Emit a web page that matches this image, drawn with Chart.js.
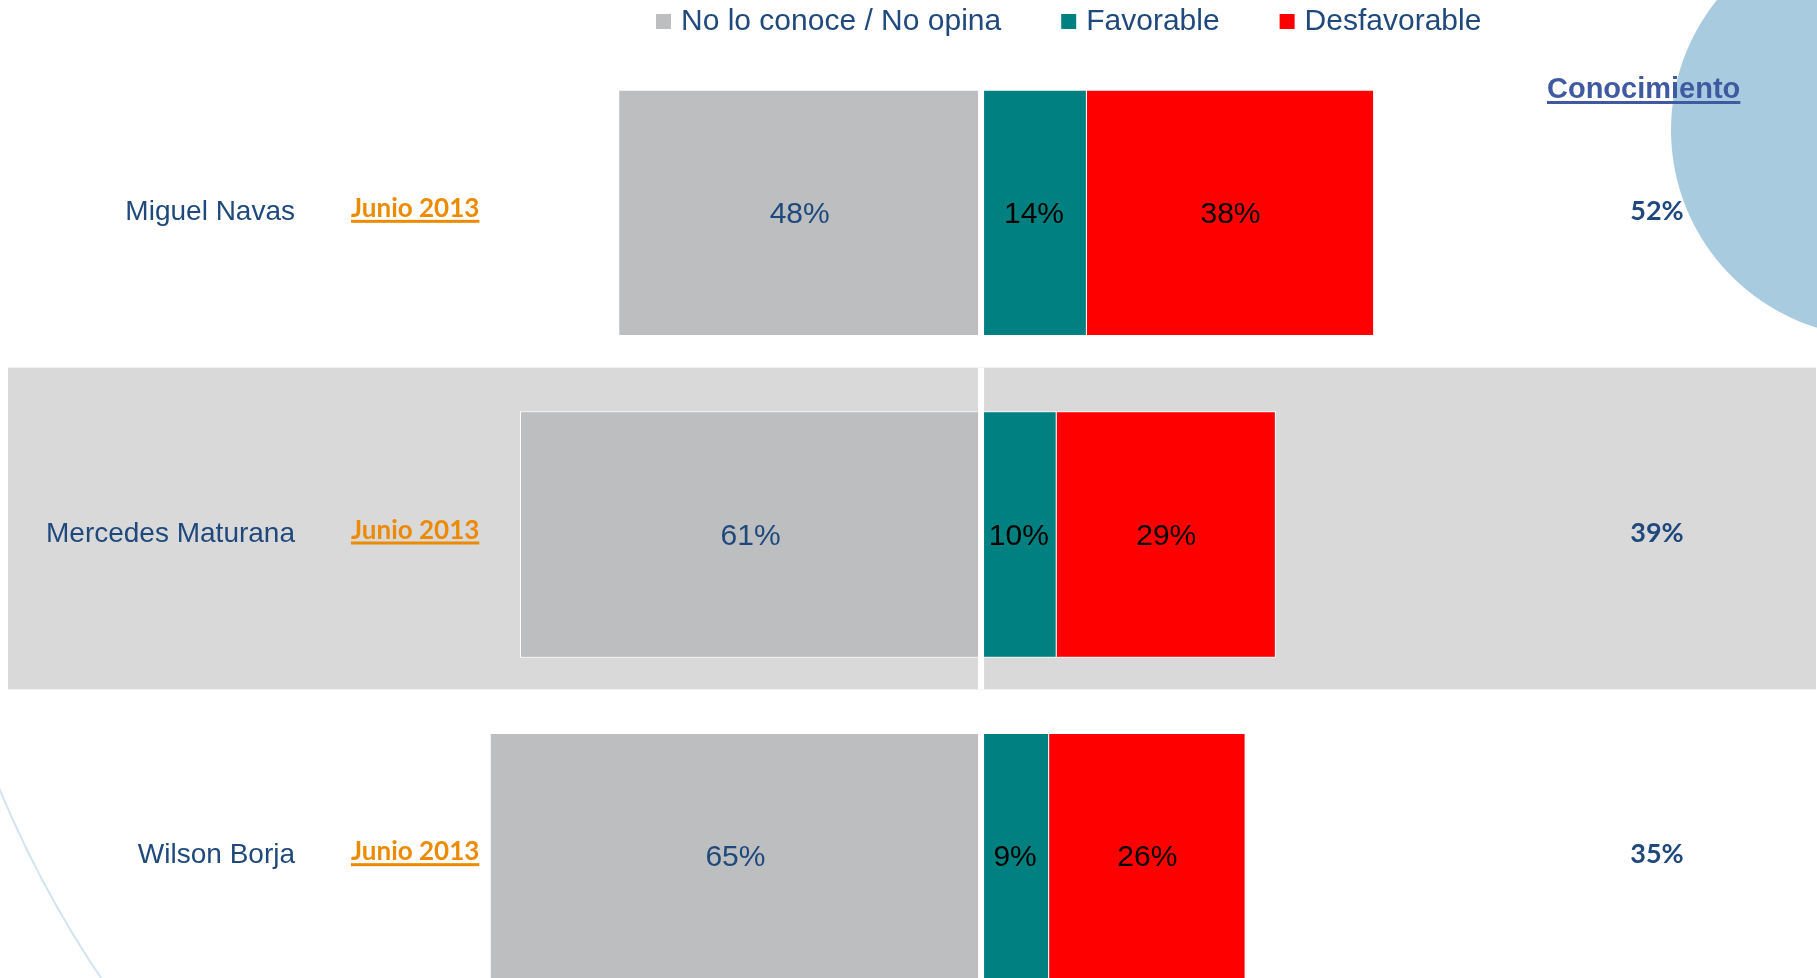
<!DOCTYPE html>
<html>
<head>
<meta charset="utf-8">
<script src="https://cdn.jsdelivr.net/npm/chart.js@4.4.1/dist/chart.umd.min.js"></script>
<style>
  html, body { margin: 0; padding: 0; background: #fff; overflow: hidden; }
  #wrap { position: relative; width: 1817px; height: 1017px; }
</style>
</head>
<body>
<div id="wrap"><canvas id="chart"></canvas></div>
<script>
// Data
const candidates = ['Miguel Navas', 'Mercedes Maturana', 'Wilson Borja'];
const periods = ['Junio 2013', 'Junio 2013', 'Junio 2013'];
const noOpina = [48, 61, 65];
const favorable = [14, 10, 9];
const desfavorable = [38, 29, 26];
const conocimiento = [52, 39, 35];
const seriesNames = ['No lo conoce / No opina', 'Favorable', 'Desfavorable'];
const seriesColors = ['#bdbec0', '#008080', '#ff0000'];

const BLUE = '#1f497d';
const SANS = '"Liberation Sans", Arial, sans-serif';

// Background: decorative circles + shaded middle row
const bgPlugin = {
  id: 'background',
  beforeDraw(chart) {
    const { ctx } = chart;
    const xs = chart.scales.x, ys = chart.scales.y;
    const zero = xs.getPixelForValue(0);
    const row = ys.getPixelForValue(1) - ys.getPixelForValue(0);
    ctx.save();
    ctx.fillStyle = '#a9cbdf';
    ctx.beginPath(); ctx.arc(1878, 130, 207, 0, Math.PI * 2); ctx.fill();
    ctx.strokeStyle = '#d2e5ef'; ctx.lineWidth = 2;
    ctx.beginPath(); ctx.arc(1000, 372, 1084, 0, Math.PI * 2); ctx.stroke();
    const cy = ys.getPixelForValue(1);
    ctx.fillStyle = '#d9d9d9';
    ctx.fillRect(8, cy - row / 2 - 6, 1808, row);
    ctx.fillStyle = '#fff';
    ctx.fillRect(zero - 3, cy - row / 2 - 6, 6, row);
    ctx.restore();
  }
};

// Text: bar values, row labels, conocimiento column, legend
const textPlugin = {
  id: 'texts',
  afterDatasetsDraw(chart) {
    const { ctx } = chart;
    const ys = chart.scales.y;
    ctx.save();

    ctx.font = '30px ' + SANS;
    ctx.textAlign = 'center';
    ctx.textBaseline = 'middle';
    chart.data.datasets.forEach((ds, di) => {
      chart.getDatasetMeta(di).data.forEach((bar, i) => {
        ctx.fillStyle = di === 0 ? BLUE : '#000';
        ctx.fillText(Math.abs(ds.data[i]) + '%', (bar.x + bar.base) / 2, bar.y + 2);
      });
    });

    ctx.textBaseline = 'alphabetic';
    candidates.forEach((name, i) => {
      const y = ys.getPixelForValue(i);
      ctx.font = '28px ' + SANS;
      ctx.fillStyle = BLUE;
      ctx.textAlign = 'right';
      ctx.fillText(name, 295, y + 7);

      ctx.font = 'bold 26px Lato, ' + SANS;
      ctx.fillStyle = '#ed8b00';
      ctx.textAlign = 'left';
      ctx.fillText(periods[i], 351, y + 4);
      const w = ctx.measureText(periods[i]).width;
      ctx.fillRect(351, y + 7, w, 3);

      ctx.font = 'bold 27px Lato, ' + SANS;
      ctx.fillStyle = BLUE;
      ctx.textAlign = 'center';
      ctx.fillText(conocimiento[i] + '%', 1657, y + 7);
    });

    ctx.font = 'bold 29px ' + SANS;
    ctx.fillStyle = '#3f5aa0';
    ctx.textAlign = 'left';
    ctx.fillText('Conocimiento', 1547, 98);
    const cw = ctx.measureText('Conocimiento').width;
    ctx.fillRect(1547, 101, cw, 3);

    // legend
    ctx.font = '30px ' + SANS;
    let lx = 656;
    chart.data.datasets.forEach((ds) => {
      ctx.fillStyle = ds.backgroundColor;
      ctx.fillRect(lx, 14, 15, 15);
      ctx.fillStyle = BLUE;
      ctx.fillText(ds.label, lx + 25, 30);
      lx += 25 + ctx.measureText(ds.label).width + 60;
    });

    ctx.restore();
  }
};

const side = (l, r) => ({ top: 1, bottom: 1, left: l, right: r });

new Chart(document.getElementById('chart'), {
  type: 'bar',
  data: {
    labels: candidates,
    datasets: [
      { label: seriesNames[0], data: noOpina.map(v => -v), backgroundColor: seriesColors[0], borderColor: '#fff', borderWidth: side(1, 3), borderSkipped: false },
      { label: seriesNames[1], data: favorable, backgroundColor: seriesColors[1], borderColor: '#fff', borderWidth: side(3, 1), borderSkipped: false },
      { label: seriesNames[2], data: desfavorable, backgroundColor: seriesColors[2], borderColor: '#fff', borderWidth: side(0, 1), borderSkipped: false }
    ]
  },
  options: {
    indexAxis: 'y',
    responsive: true,
    maintainAspectRatio: false,
    animation: false,
    layout: { padding: { top: 52, left: 0, right: 0, bottom: 0 } },
    datasets: { bar: { categoryPercentage: 1, barPercentage: 0.766 } },
    scales: {
      x: { stacked: true, display: false, min: -129.8, max: 110.6 },
      y: { stacked: true, display: false }
    },
    plugins: { legend: { display: false }, tooltip: { enabled: false } }
  },
  plugins: [bgPlugin, textPlugin]
});
</script>
</body>
</html>
